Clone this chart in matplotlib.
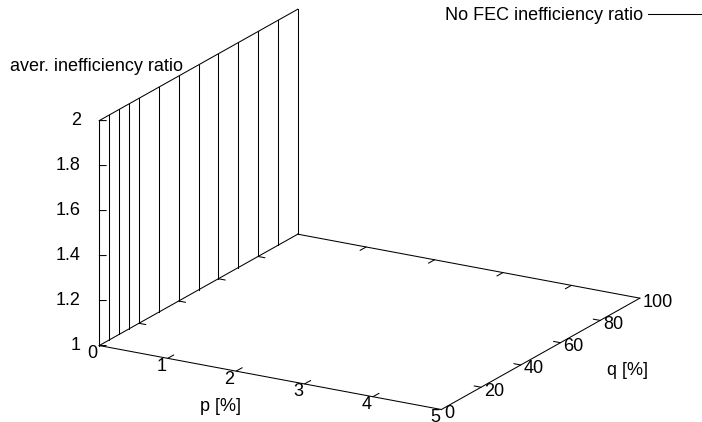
import numpy as np
import matplotlib
matplotlib.use('Agg')
import matplotlib.pyplot as plt
from matplotlib.lines import Line2D
from mpl_toolkits.mplot3d import proj3d

plt.rcParams['font.family'] = ['Liberation Sans', 'DejaVu Sans']
plt.rcParams['font.size'] = 13

# Axis ticks
p_ticks = [0, 1, 2, 3, 4, 5]
q_ticks = [0, 20, 40, 60, 80, 100]
z_ticks = [1.0, 1.2, 1.4, 1.6, 1.8, 2.0]
z_tick_labels = ['1', '1.2', '1.4', '1.6', '1.8', '2']

# Surface data: at p = 0 the ratio runs off the top of the z range (clipped at 2)
q_values = [0, 5, 10, 15, 20, 30, 40, 50, 60, 70, 80, 90, 100]
p_wall = [0, 0, 0, 0, 0, 0, 0, 0, 0, 0, 0, 0, 0]
ratio_low = [1, 1, 1, 1, 1, 1, 1, 1, 1, 1, 1, 1, 1]
ratio_high = [2, 2, 2, 2, 2, 2, 2, 2, 2, 2, 2, 2, 2]

p_range = (0, 5)
q_range = (0, 100)
z_range = (1, 2)

W, H = 702, 422
fig = plt.figure(figsize=(W / 100, H / 100), dpi=100)
ax = fig.add_axes([0.1, 0.1, 0.6, 0.6], projection='3d', proj_type='ortho',
                  computed_zorder=False)
ax.view_init(elev=18.9, azim=-60)
ax.set_box_aspect((1, 1.005, 0.602))
ax.set_xlim(*p_range)
ax.set_ylim(*q_range)
ax.set_zlim(*z_range)
ax.set_axis_off()


def proj2d(x, y, z):
    u, v, _ = proj3d.proj_transform(np.atleast_1d(x), np.atleast_1d(y),
                                    np.atleast_1d(z), ax.get_proj())
    return float(u[0]), float(v[0])


# Place the (square) 3D axes so the box corners land where gnuplot put them
corners = [(0, 0, 1), (5, 0, 1), (5, 100, 1), (0, 100, 1), (0, 0, 2)]
target_px = np.array([(99.5, 345), (441, 410), (640, 298), (297.5, 235), (99.5, 120)])
target = np.column_stack([target_px[:, 0], H - target_px[:, 1]])

fig.canvas.draw()
cur = np.array([ax.transData.transform(proj2d(*c)) for c in corners])
cm, tm = cur.mean(axis=0), target.mean(axis=0)
k = np.sum((cur - cm) * (target - tm)) / np.sum((cur - cm) ** 2)
t = tm - k * cm
bb = ax.get_position()
x0, y0 = bb.x0 * W * k + t[0], bb.y0 * H * k + t[1]
w, h = bb.width * W * k, bb.height * H * k
ax.set_position([x0 / W, y0 / H, w / W, h / H])
fig.canvas.draw()

lw = 0.75
line_kw = dict(color='black', lw=lw, clip_on=False)

# Base frame at z = 1 and the z axis
ax.plot([0, 5], [0, 0], [1, 1], **line_kw)
ax.plot([5, 5], [0, 100], [1, 1], **line_kw)
ax.plot([0, 5], [100, 100], [1, 1], **line_kw)
ax.plot([0, 0], [0, 100], [1, 1], **line_kw)
ax.plot([0, 0], [0, 0], [1, 2], **line_kw)

# Surface lines
for p, q, lo, hi in zip(p_wall, q_values, ratio_low, ratio_high):
    ax.plot([p, p], [q, q], [lo, hi], **line_kw)
ax.plot(p_wall, q_values, ratio_high, **line_kw)


def tick(x, y, z, dx, dy):
    ax.annotate('', xy=proj2d(x, y, z), xycoords='data', xytext=(dx, dy),
                textcoords='offset pixels', annotation_clip=False,
                arrowprops=dict(arrowstyle='-', shrinkA=0, shrinkB=0, lw=lw, color='black'))


def label(s, x, y, z, dx, dy, ha='center', va='center'):
    ax.annotate(s, xy=proj2d(x, y, z), xycoords='data', xytext=(dx, dy),
                textcoords='offset pixels', ha=ha, va=va, annotation_clip=False)


# p axis ticks (front and back edges)
for p in p_ticks[1:-1]:
    tick(p, 0, 1, 6.1, 3.4)
    tick(p, 100, 1, -6.1, -3.4)
for p in p_ticks:
    label(str(p), p, 0, 1, -6.5, -8)

# q axis ticks (left and right edges)
for q in q_ticks[1:-1]:
    tick(0, q, 1, 6.9, -1.3)
    tick(5, q, 1, -6.9, 1.3)
for q in q_ticks:
    label(str(q), 5, q, 1, 3, -4, ha='left')

# z axis ticks
for z, s in zip(z_ticks, z_tick_labels):
    tick(0, 0, z, 7, 0)
    label(s, 0, 0, z, -18.5, 0, ha='right')

# Axis titles
label('p [%]', 2.5, 0, 1, -50, -28.5)
label('q [%]', 5, 50, 1, 86.5, -17)
label('aver. inefficiency ratio', 0, 0, 2, -89.5, 50, ha='left', va='baseline')

handle = Line2D([], [], color='black', lw=lw)
fig.legend([handle], ['No FEC inefficiency ratio'], loc='center right',
           bbox_to_anchor=(1.0, 1 - 15.5 / H), frameon=False, markerfirst=False,
           handlelength=3.0, handletextpad=0.28, borderpad=0, borderaxespad=0)

fig.savefig('out.png', dpi=100)
